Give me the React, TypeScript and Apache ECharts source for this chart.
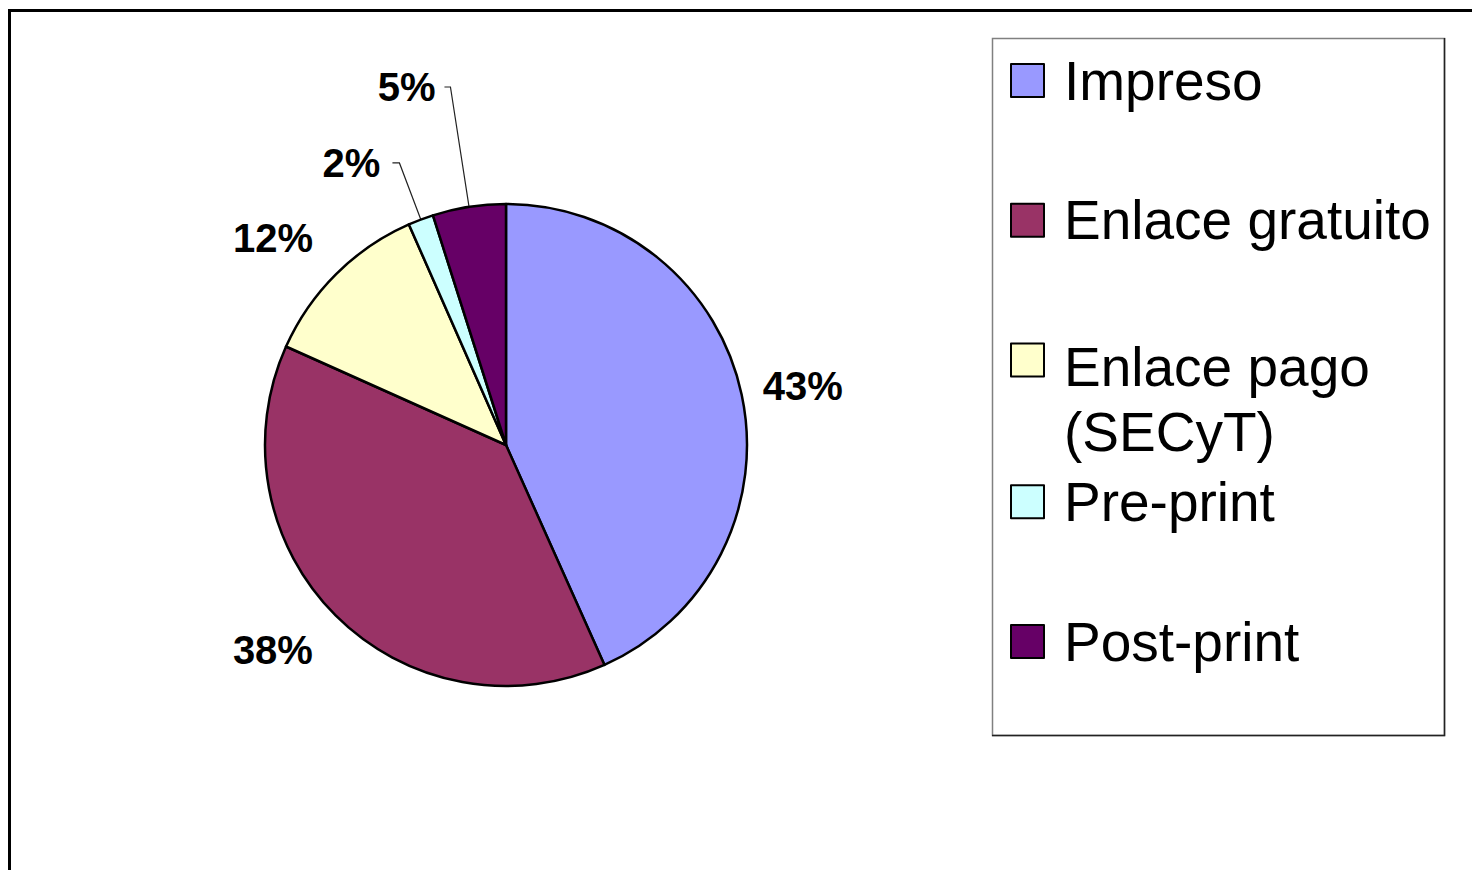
import React, { useEffect, useRef } from "react";
import * as echarts from "echarts";

const FONT = "'Liberation Sans', Arial, Helvetica, sans-serif";

const categories = ["Impreso", "Enlace gratuito", "Enlace pago (SECyT)", "Pre-print", "Post-print"];
const shares = [43.3, 38.4, 11.7, 1.7, 4.9];
const colors = ["#9999FF", "#993366", "#FFFFCC", "#CCFFFF", "#660066"];
const legendLines: string[][] = [["Impreso"], ["Enlace gratuito"], ["Enlace pago", "(SECyT)"], ["Pre-print"], ["Post-print"]];

const labelLineLength = [41, 49, 51, 60.5, 121.3];
const labelLineLength2 = [-24, -17, -18, 7, 6];
const labelDistance = [5, 5, 5, 12, 9];
const labelLineVisible = [false, false, false, true, true];

export default function App() {
  const ref = useRef<HTMLDivElement>(null);
  useEffect(() => {
    if (!ref.current) return;
    const chart = echarts.init(ref.current, undefined, { renderer: "svg" });
    const option: any = {
      animation: false,
      backgroundColor: "#ffffff",
      graphic: [
        {
          type: "rect",
          z: 100,
          silent: true,
          shape: { x: 9.5, y: 10.5, width: 1500, height: 900 },
          style: { fill: "none", stroke: "#000", lineWidth: 3 },
        },
        {
          type: "rect",
          z: 100,
          silent: true,
          shape: { x: 992.5, y: 38.5, width: 452, height: 697 },
          style: { fill: "none", stroke: "#808080", lineWidth: 1.5 },
        },
        {
          type: "polyline",
          z: 101,
          silent: true,
          shape: { points: [[1444.5, 38], [1444.5, 735.5], [992, 735.5]] },
          style: { fill: "none", stroke: "#222", lineWidth: 1.5 },
        },
      ],
      legend: {
        orient: "vertical",
        left: 1010,
        top: -17,
        padding: 0,
        itemGap: -55.25,
        itemWidth: 33,
        itemHeight: 33,
        icon: "rect",
        selectedMode: false,
        itemStyle: { borderColor: "#000", borderWidth: 2 },
        data: categories.map((name, i) =>
          i === 2 ? { name, textStyle: { padding: [72, 0, -7, 15] } } : { name }
        ),
        formatter: (name: string) =>
          legendLines[categories.indexOf(name)].map((s) => `{a|${s}}`).join("\n"),
        textStyle: {
          padding: [65, 0, 65, 15],
          backgroundColor: "rgba(255,255,255,0)",
          color: "#000",
          rich: {
            a: { fontSize: 55, fontFamily: FONT, lineHeight: 65, color: "#000" },
          },
        },
      },
      series: [
        {
          type: "pie",
          center: [506, 445],
          radius: 241,
          startAngle: 90,
          clockwise: true,
          avoidLabelOverlap: false,
          percentPrecision: 0,
          emphasis: { disabled: true },
          itemStyle: { borderColor: "#000", borderWidth: 2.5 },
          label: {
            position: "outside",
            formatter: "{d}%",
            fontSize: 40,
            fontWeight: "bold",
            fontFamily: FONT,
            color: "#000",
          },
          labelLine: { lineStyle: { color: "#222", width: 1.2 } },
          data: categories.map((name, i) => ({
            name,
            value: shares[i],
            itemStyle: { color: colors[i] },
            label: { distanceToLabelLine: labelDistance[i] },
            labelLine: {
              show: labelLineVisible[i],
              length: labelLineLength[i],
              length2: labelLineLength2[i],
            },
          })),
        },
      ],
    };
    chart.setOption(option);
    return () => chart.dispose();
  }, []);
  return (
    <div
      ref={ref}
      style={{ position: "fixed", left: 0, top: 0, width: 1472, height: 870 }}
    />
  );
}
